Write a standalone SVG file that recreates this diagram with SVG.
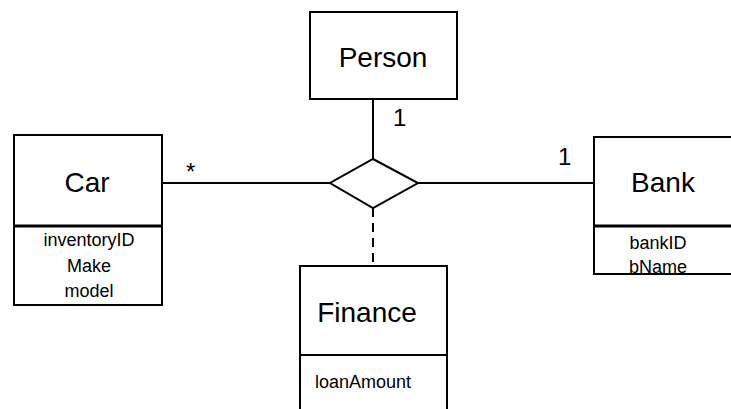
<svg xmlns="http://www.w3.org/2000/svg" width="731" height="409" viewBox="0 0 731 409">
<style>
.box{fill:#fff;stroke:#000;stroke-width:2}
.div{stroke:#000;stroke-width:3}
.div2{stroke:#000;stroke-width:2}
.ln{stroke:#000;stroke-width:2;fill:none}
.t{font-family:"Liberation Sans",Arial,sans-serif;font-size:28px;fill:#000;text-anchor:middle}
.a{font-family:"Liberation Sans",Arial,sans-serif;font-size:18px;fill:#000;text-anchor:middle}
.m{font-family:"Liberation Sans",Arial,sans-serif;font-size:24px;fill:#000}
</style>
<rect width="731" height="409" fill="#fff"/>
<g id="connectors">
<line class="ln" x1="373" y1="99" x2="373" y2="159"/>
<line class="ln" x1="162" y1="183" x2="330" y2="183"/>
<line class="ln" x1="418" y1="183" x2="594" y2="183"/>
<line class="ln" x1="373" y1="208" x2="373" y2="266" stroke-dasharray="9,6"/>
<text class="m" x="393" y="126">1</text>
<text class="m" x="186" y="180">*</text>
<text class="m" x="558" y="165">1</text>
</g>
<g id="association">
<polygon class="box" points="373,159 418,183 373,208 330,183"/>
</g>
<g id="person">
<rect class="box" x="310" y="12" width="147" height="87"/>
<text class="t" x="383" y="67">Person</text>
</g>
<g id="car">
<rect class="box" x="14" y="135" width="148" height="170"/>
<line class="div" x1="14" y1="226" x2="162" y2="226"/>
<text class="t" x="87" y="192">Car</text>
<text class="a" x="89" y="246">inventoryID</text>
<text class="a" x="89" y="272">Make</text>
<text class="a" x="89" y="297">model</text>
</g>
<g id="bank">
<rect class="box" x="594" y="137" width="150" height="137"/>
<line class="div" x1="594" y1="226" x2="740" y2="226"/>
<text class="t" x="663" y="192">Bank</text>
<text class="a" x="658" y="249">bankID</text>
<text class="a" x="658" y="273">bName</text>
</g>
<g id="finance">
<rect class="box" x="300" y="266" width="147" height="150"/>
<line class="div2" x1="300" y1="355" x2="447" y2="355"/>
<text class="t" x="367" y="322">Finance</text>
<text class="a" x="315" y="388" style="text-anchor:start">loanAmount</text>
</g>
</svg>
